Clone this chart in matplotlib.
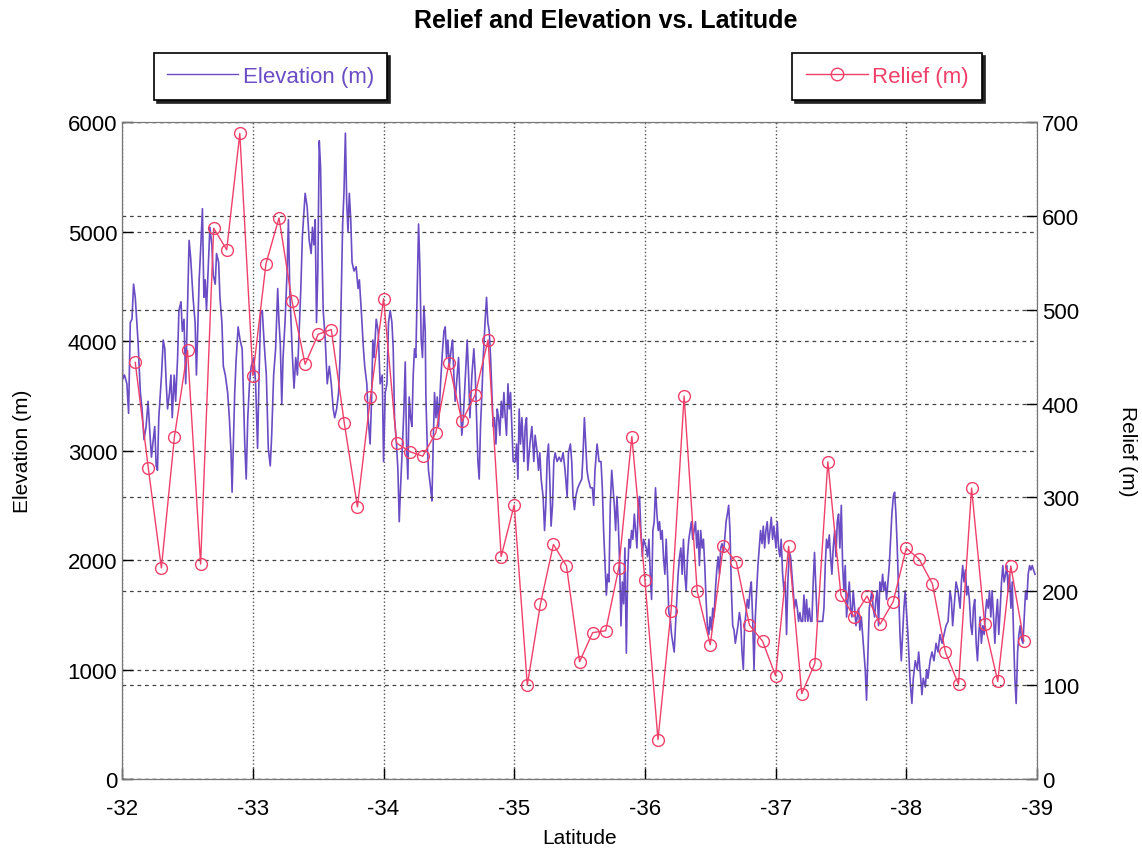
import matplotlib
matplotlib.use('Agg')
import matplotlib.pyplot as plt
from matplotlib.lines import Line2D

plt.rcParams['font.family'] = ['Liberation Sans', 'DejaVu Sans']
plt.rcParams['axes.unicode_minus'] = False

# рельеф: точка каждые 0.1 градуса широты
relief_lat = [-32.1, -32.2, -32.3, -32.4, -32.5, -32.6, -32.7, -32.8, -32.9, -33.0,
              -33.1, -33.2, -33.3, -33.4, -33.5, -33.6, -33.7, -33.8, -33.9, -34.0,
              -34.1, -34.2, -34.3, -34.4, -34.5, -34.6, -34.7, -34.8, -34.9, -35.0,
              -35.1, -35.2, -35.3, -35.4, -35.5, -35.6, -35.7, -35.8, -35.9, -36.0,
              -36.1, -36.2, -36.3, -36.4, -36.5, -36.6, -36.7, -36.8, -36.9, -37.0,
              -37.1, -37.2, -37.3, -37.4, -37.5, -37.6, -37.7, -37.8, -37.9, -38.0,
              -38.1, -38.2, -38.3, -38.4, -38.5, -38.6, -38.7, -38.8, -38.9]
relief_m = [444, 331, 225, 365, 457, 229, 587, 564, 688, 430,
            549, 598, 509, 442, 474, 479, 379, 290, 407, 512,
            358, 349, 344, 369, 443, 381, 409, 468, 237, 292,
            100, 186, 250, 227, 125, 156, 158, 225, 365, 212,
            42, 179, 408, 200, 143, 248, 231, 164, 147, 110,
            248, 91, 123, 338, 196, 173, 195, 165, 189, 246,
            234, 208, 135, 101, 310, 165, 104, 227, 147]

# высота (профиль)
elev_lat = [
    -32.000, -32.003, -32.018, -32.036, -32.049, -32.062, -32.075, -32.087, -32.100, -32.121,
    -32.139, -32.152, -32.167, -32.183, -32.198, -32.213, -32.224, -32.234, -32.249, -32.260,
    -32.270, -32.280, -32.301, -32.314, -32.326, -32.337, -32.347, -32.362, -32.373, -32.383,
    -32.398, -32.409, -32.424, -32.434, -32.450, -32.460, -32.473, -32.486, -32.499, -32.512,
    -32.524, -32.542, -32.558, -32.568, -32.578, -32.589, -32.602, -32.614, -32.625, -32.635,
    -32.645, -32.661, -32.671, -32.686, -32.697, -32.712, -32.722, -32.738, -32.748, -32.763,
    -32.774, -32.789, -32.807, -32.820, -32.833, -32.841, -32.851, -32.861, -32.871, -32.887,
    -32.902, -32.918, -32.928, -32.938, -32.949, -32.961, -32.974, -32.987,
    -33.008, -33.021, -33.036, -33.046, -33.059, -33.072, -33.087, -33.103, -33.118, -33.133,
    -33.144, -33.159, -33.174, -33.190, -33.200, -33.210, -33.221, -33.231, -33.246, -33.262,
    -33.272, -33.282, -33.292, -33.303, -33.315, -33.328, -33.341, -33.354, -33.367, -33.379,
    -33.400, -33.415, -33.431, -33.446, -33.456, -33.467, -33.477, -33.487, -33.497, -33.508,
    -33.518, -33.528, -33.538, -33.554, -33.569, -33.585, -33.600, -33.615, -33.626, -33.641,
    -33.656, -33.667, -33.677, -33.687, -33.697, -33.708, -33.718, -33.728, -33.738, -33.749,
    -33.759, -33.774, -33.790, -33.805, -33.815, -33.831, -33.846, -33.856, -33.872, -33.882,
    -33.897, -33.908, -33.918, -33.928, -33.944, -33.959, -33.974, -33.990,
    -34.000, -34.013, -34.026, -34.038, -34.051, -34.064, -34.074, -34.084, -34.099, -34.110,
    -34.120, -34.130, -34.145, -34.156, -34.166, -34.176, -34.186, -34.196, -34.207, -34.217,
    -34.227, -34.237, -34.247, -34.258, -34.268, -34.278, -34.288, -34.298, -34.309, -34.319,
    -34.324, -34.334, -34.344, -34.360, -34.370, -34.380, -34.390, -34.401, -34.411, -34.421,
    -34.436, -34.452, -34.462, -34.472, -34.482, -34.492, -34.503, -34.518, -34.528, -34.538,
    -34.548, -34.564, -34.574, -34.584, -34.599, -34.610, -34.620, -34.630, -34.640, -34.651,
    -34.661, -34.676, -34.691, -34.702, -34.712, -34.722, -34.732, -34.742, -34.753, -34.763,
    -34.778, -34.788, -34.798, -34.809, -34.819, -34.829, -34.839, -34.849, -34.860, -34.870,
    -34.880, -34.890, -34.901, -34.911, -34.921, -34.931, -34.941, -34.952, -34.962, -34.972,
    -34.982, -34.992,
    -35.008, -35.018, -35.028, -35.038, -35.048, -35.059, -35.074, -35.084, -35.094, -35.104,
    -35.120, -35.135, -35.150, -35.160, -35.176, -35.186, -35.196, -35.206, -35.221, -35.232,
    -35.242, -35.252, -35.262, -35.272, -35.282, -35.293, -35.303, -35.313, -35.328, -35.344,
    -35.359, -35.374, -35.389, -35.405, -35.415, -35.430, -35.440, -35.450, -35.461, -35.471,
    -35.486, -35.501, -35.517, -35.527, -35.537, -35.547, -35.557, -35.567, -35.583, -35.598,
    -35.608, -35.618, -35.634, -35.649, -35.664, -35.674, -35.684, -35.695, -35.705, -35.715,
    -35.725, -35.735, -35.746, -35.756, -35.766, -35.776, -35.786, -35.796, -35.807, -35.817,
    -35.827, -35.837, -35.847, -35.858, -35.868, -35.878, -35.888, -35.898, -35.908, -35.919,
    -35.929, -35.939, -35.949, -35.959, -35.969, -35.980, -35.990,
    -36.010, -36.020, -36.031, -36.041, -36.051, -36.061, -36.071, -36.081, -36.092, -36.102,
    -36.112, -36.122, -36.132, -36.142, -36.153, -36.163, -36.173, -36.183, -36.193, -36.204,
    -36.214, -36.224, -36.234, -36.244, -36.254, -36.265, -36.275, -36.285, -36.295, -36.305,
    -36.316, -36.326, -36.336, -36.346, -36.356, -36.366, -36.377, -36.387, -36.397, -36.407,
    -36.417, -36.427, -36.438, -36.448, -36.458, -36.468, -36.478, -36.489, -36.499, -36.509,
    -36.519, -36.529, -36.539, -36.550, -36.560, -36.570, -36.580, -36.590, -36.601, -36.611,
    -36.621, -36.631, -36.641, -36.651, -36.662, -36.672, -36.682, -36.692, -36.702, -36.712,
    -36.723, -36.733, -36.743, -36.753, -36.763, -36.774, -36.784, -36.794, -36.804, -36.814,
    -36.824, -36.835, -36.845, -36.855, -36.865, -36.875, -36.885, -36.896, -36.906, -36.916,
    -36.926, -36.936, -36.947, -36.957, -36.967, -36.977, -36.987,
    -37.003, -37.013, -37.023, -37.033, -37.043, -37.054, -37.064, -37.074, -37.084, -37.094,
    -37.105, -37.115, -37.125, -37.135, -37.145, -37.156, -37.166, -37.176, -37.186, -37.196,
    -37.207, -37.217, -37.227, -37.237, -37.247, -37.258, -37.268, -37.278, -37.288, -37.298,
    -37.309, -37.319, -37.339, -37.360, -37.370, -37.380, -37.390, -37.401, -37.411, -37.421,
    -37.431, -37.441, -37.452, -37.462, -37.472, -37.482, -37.492, -37.503, -37.513, -37.523,
    -37.533, -37.543, -37.554, -37.564, -37.574, -37.584, -37.594, -37.605, -37.615, -37.625,
    -37.635, -37.645, -37.656, -37.666, -37.676, -37.686, -37.696, -37.707, -37.717, -37.727,
    -37.737, -37.747, -37.758, -37.768, -37.778, -37.788, -37.798, -37.809, -37.819, -37.829,
    -37.839, -37.849, -37.860, -37.870, -37.880, -37.890, -37.901, -37.911, -37.921, -37.931,
    -37.941, -37.952, -37.962, -37.972, -37.982, -37.992,
    -38.000, -38.013, -38.028, -38.043, -38.054, -38.069, -38.084, -38.095, -38.110, -38.120,
    -38.130, -38.146, -38.156, -38.166, -38.182, -38.197, -38.212, -38.228, -38.243, -38.258,
    -38.274, -38.289, -38.304, -38.320, -38.335, -38.345, -38.355, -38.371, -38.381, -38.396,
    -38.412, -38.422, -38.432, -38.442, -38.453, -38.463, -38.473, -38.483, -38.494, -38.504,
    -38.514, -38.524, -38.535, -38.545, -38.555, -38.565, -38.575, -38.586, -38.596, -38.606,
    -38.616, -38.627, -38.637, -38.647, -38.657, -38.668, -38.678, -38.688, -38.698, -38.708,
    -38.719, -38.729, -38.739, -38.749, -38.760, -38.770, -38.780, -38.790, -38.801, -38.811,
    -38.821, -38.831, -38.841, -38.852, -38.862, -38.872, -38.882, -38.893, -38.903, -38.913,
    -38.923, -38.933, -38.944, -38.954, -38.964, -38.974, -38.985]
elev_m = [
    3970, 3650, 3690, 3610, 3340, 4170, 4200, 4520, 4400, 4000,
    3530, 3380, 3100, 3220, 3450, 3140, 2940, 3060, 3220, 2860,
    2820, 3300, 3690, 4010, 3930, 3610, 3380, 3530, 3690, 3300,
    3690, 3450, 3850, 4280, 4360, 4090, 4200, 3610, 4280, 4920,
    4760, 4400, 4170, 3690, 4090, 4560, 4880, 5210, 4400, 4560,
    4280, 4760, 5040, 4880, 4600, 4520, 4800, 4720, 4400, 4170,
    3770, 3690, 3530, 3300, 2980, 2620, 3060, 3530, 3810, 4130,
    4010, 3930, 3490, 3060, 2740, 3300, 3610, 3770,
    3850, 3610, 3020, 3610, 4250, 4280, 3970, 3690, 3020, 2860,
    3140, 3690, 3930, 4480, 4170, 3970, 3420, 3850, 4170, 4640,
    5110, 4480, 4170, 3850, 3570, 3850, 3690, 4090, 4480, 4960,
    5350, 5230, 4920, 4800, 5040, 4880, 5110, 4170, 4640, 5830,
    5590, 4880, 4280, 4010, 3610, 3770, 3610, 3380, 3300, 3380,
    3530, 3850, 4480, 5070, 5350, 5900, 5270, 5000, 5350, 5110,
    4720, 4640, 4680, 4480, 4560, 4250, 3930, 3770, 3610, 3300,
    3060, 3450, 4010, 3850, 4200, 4090, 3610, 3690,
    2900, 3530, 3610, 4170, 4280, 4170, 3930, 3300, 3060, 2820,
    2350, 2660, 3060, 3380, 3810, 3060, 2740, 3490, 3300, 3220,
    3690, 3930, 3850, 4480, 5070, 4680, 4010, 3850, 4320, 4090,
    3490, 3060, 2820, 2660, 2540, 3060, 3530, 3300, 3490, 3220,
    3610, 3930, 4090, 4130, 3850, 4010, 3770, 3930, 4010, 3690,
    3450, 3690, 3850, 3530, 3140, 3300, 3530, 3770, 4010, 3690,
    3300, 3690, 3930, 3690, 3300, 2900, 2740, 3220, 3530, 3850,
    4200, 4400, 4170, 4090, 3850, 3530, 3220, 3300, 3060, 3380,
    3300, 3140, 3450, 3300, 3530, 3300, 3140, 3610, 3380, 3530,
    3220, 2900,
    2900, 3060, 2740, 3380, 3060, 3300, 2900, 3220, 3300, 2820,
    3060, 3220, 2900, 3140, 2980, 2820, 2980, 2740, 2580, 2270,
    2500, 2930, 3060, 2740, 2310, 2500, 2900, 2980, 2900, 2940,
    2900, 2980, 2820, 2580, 2980, 3060, 2900, 2580, 2460, 2580,
    2660, 2700, 2740, 2980, 3300, 3060, 2820, 2740, 2660, 2660,
    2500, 2820, 3060, 2900, 2900, 2660, 2270, 1950, 1680, 1870,
    1800, 2500, 2820, 2660, 2500, 2270, 2580, 2350, 1950, 1400,
    1800, 1600, 2110, 1150, 1870, 2190, 2110, 2270, 2190, 2420,
    2270, 2110, 2500, 2580, 2270, 2030, 2190,
    2110, 2030, 2190, 1870, 1640, 2270, 2350, 2660, 2420, 2270,
    2350, 2190, 2270, 2030, 1870, 2190, 1870, 1520, 1480, 1320,
    1240, 1160, 1400, 1640, 1870, 2030, 2110, 1870, 2190, 1870,
    1720, 2030, 2190, 2270, 2350, 2190, 2270, 2350, 2110, 2270,
    1950, 2270, 2110, 2190, 1950, 1640, 1400, 1320, 1480, 1360,
    1560, 1480, 1720, 1910, 2030, 1870, 2110, 2150, 2070, 2190,
    2350, 2420, 2500, 2270, 1720, 1400, 1360, 1240, 1320, 1400,
    1520, 1440, 1160, 1000, 1400, 1520, 1640, 1560, 1720, 1800,
    1480, 1000, 1480, 1720, 1950, 2110, 2270, 2150, 2310, 2110,
    2270, 2350, 2150, 2270, 2390, 2190, 2310,
    2110, 2350, 2110, 2030, 2190, 1870, 1720, 1800, 1320, 1800,
    2070, 2030, 1870, 1720, 1560, 1640, 1560, 1440, 1520, 1440,
    1440, 1680, 1440, 1640, 1440, 1560, 1440, 1440, 1800, 2070,
    1720, 1440, 1440, 1440, 1560, 1950, 2190, 2110, 2230, 2030,
    1870, 2110, 2270, 2030, 2350, 2420, 2110, 2500, 1950, 1720,
    1950, 1480, 1640, 1800, 1560, 1480, 1720, 1560, 1400, 1480,
    1560, 1360, 1480, 1320, 1160, 1000, 720, 1160, 1560, 1640,
    1720, 1560, 1480, 1640, 1720, 1400, 1800, 1720, 1870, 1720,
    1800, 1640, 1800, 1950, 2190, 2420, 2580, 2620, 2420, 2110,
    1720, 1320, 1080, 1320, 1560, 1720,
    1560, 1320, 920, 690, 920, 1080, 1000, 1160, 920, 770,
    920, 840, 1000, 920, 1080, 1160, 1080, 1240, 1160, 1320,
    1240, 1320, 1400, 1440, 1720, 1640, 1400, 1640, 1800, 1720,
    1560, 1800, 1950, 1800, 1910, 1680, 1760, 1640, 1400, 1320,
    1560, 1640, 1240, 1080, 1320, 1480, 1240, 1400, 1320, 1520,
    1640, 1560, 1720, 1480, 1720, 1480, 1240, 1480, 1640, 1320,
    1560, 1800, 1950, 1800, 1870, 1950, 1720, 1870, 1560, 1800,
    1320, 920, 690, 1160, 1320, 1400, 1280, 1240, 1480, 1720,
    1640, 1870, 1950, 1910, 1950, 1910, 1870]

elev_color = '#6a4cc4'
relief_color = '#f0406a'

fig = plt.figure(figsize=(11.42, 8.53), dpi=100)
ax = fig.add_axes([0.107, 0.0856, 0.801, 0.770])
ax2 = ax.twinx()

ax.plot(elev_lat, elev_m, color=elev_color, lw=1.2)
ax2.plot(relief_lat, relief_m, color=relief_color, lw=1.0, marker='o',
         markersize=8.5, markerfacecolor='none', markeredgecolor=relief_color, markeredgewidth=1.0)

ax.set_xlim(-32, -39)
ax.set_ylim(0, 6000)
ax2.set_ylim(0, 700)
ax.set_xticks([-32, -33, -34, -35, -36, -37, -38, -39])
ax.set_yticks([0, 1000, 2000, 3000, 4000, 5000, 6000])
ax2.set_yticks([0, 100, 200, 300, 400, 500, 600, 700])

ax.grid(axis='x', linestyle=':', color='#555555', lw=1.0)
ax.grid(axis='y', linestyle=(0, (3, 3)), color='#444444', lw=0.9)
ax2.grid(axis='y', linestyle=(0, (3, 3)), color='#444444', lw=0.9)

for a in (ax, ax2):
    a.tick_params(direction='in', labelsize=16, length=8, width=1)
    for s in a.spines.values():
        s.set_color('#777777')
ax.spines['bottom'].set_color('#222222')
ax.spines['left'].set_color('#222222')
ax.tick_params(axis='x', pad=14)

ax.set_xlabel('Latitude', fontsize=15, labelpad=6)
ax.set_ylabel('Elevation (m)', fontsize=15, labelpad=26)
ax2.set_ylabel('Relief (m)', fontsize=15, rotation=-90, labelpad=42)

fig.suptitle('Relief and Elevation vs. Latitude', fontsize=18, fontweight='bold',
             x=0.53, y=0.99)

h_elev = Line2D([], [], color=elev_color, lw=1.0)
h_rel = Line2D([], [], color=relief_color, lw=1.0, marker='o', markersize=9,
               markerfacecolor='none', markeredgecolor=relief_color)
leg_kw = dict(fontsize=16, frameon=True, fancybox=False, borderpad=0.6,
              shadow={'color': '#222222', 'alpha': 1.0}, labelcolor='linecolor',
              handletextpad=0.2)
lg1 = fig.legend([h_elev], ['Elevation (m)'], loc='center',
                 bbox_to_anchor=(0.237, 0.909), handlelength=3.2, **leg_kw)
lg2 = fig.legend([h_rel], ['Relief (m)'], loc='center',
                 bbox_to_anchor=(0.777, 0.909), handlelength=2.8, **leg_kw)
for lg in (lg1, lg2):
    lg.get_frame().set_edgecolor('black')
    lg.get_frame().set_linewidth(1.2)

fig.savefig('out.png', dpi=100)
